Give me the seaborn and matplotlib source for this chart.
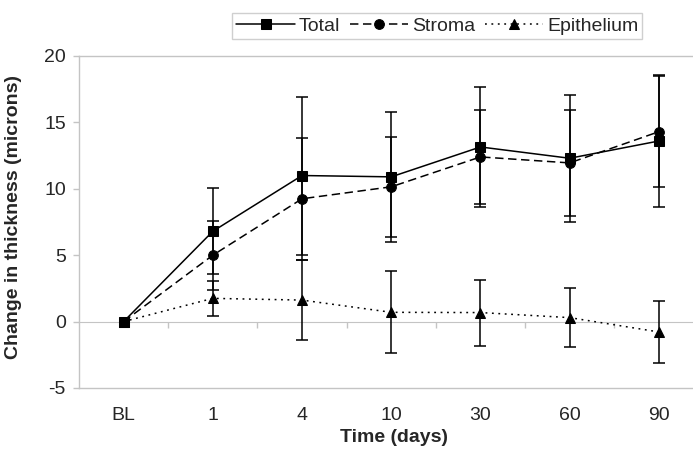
import numpy as np
import pandas as pd
import matplotlib
matplotlib.use('Agg')
import matplotlib.pyplot as plt
import seaborn as sns

# data
days = ['BL', '1', '4', '10', '30', '60', '90']
total = [0, 6.8, 11.0, 10.9, 13.15, 12.3, 13.6]
total_err = [np.nan, 3.25, 5.95, 4.9, 4.5, 4.8, 5.0]
stroma = [0, 5.0, 9.25, 10.15, 12.4, 11.95, 14.3]
stroma_err = [np.nan, 2.6, 4.6, 3.75, 3.55, 4.0, 4.2]
epi = [0, 1.75, 1.62, 0.7, 0.68, 0.3, -0.78]
epi_err = [np.nan, 1.3, 3.0, 3.1, 2.48, 2.2, 2.3]
series_names = ['Total', 'Stroma', 'Epithelium']

sns.set_style('white')
plt.rcParams['font.family'] = ['Liberation Sans', 'DejaVu Sans']
plt.rcParams['axes.unicode_minus'] = False

df = pd.DataFrame({
    'day': days * 3,
    'value': total + stroma + epi,
    'series': np.repeat(series_names, len(days)),
})

grey = '#c4c4c4'
fig = plt.figure(figsize=(6.93, 4.5), dpi=100)
ax = fig.add_axes([79 / 693, 62 / 450, 624.5 / 693, 332 / 450])

sns.lineplot(data=df, x='day', y='value', style='series', sort=False,
             markers={'Total': 's', 'Stroma': 'o', 'Epithelium': '^'},
             dashes={'Total': '', 'Stroma': (5.5, 3), 'Epithelium': (1.2, 3.0)},
             color='black', linewidth=1.1, markersize=7, markeredgecolor='black',
             legend=False, ax=ax, zorder=3)
handles = list(ax.lines[:3])

for vals, errs in [(total, total_err), (stroma, stroma_err), (epi, epi_err)]:
    ax.errorbar(days, vals, yerr=errs, fmt='none', ecolor='black',
                elinewidth=1.1, capsize=4, capthick=1.1, zorder=2)

ax.set_xlim(-0.5, 6.5)
ax.set_ylim(-5, 20)
ax.set_yticks([-5, 0, 5, 10, 15, 20])
ax.set_yticklabels(['-5', '0', '5', '10', '15', '20'])

for side in ['left', 'top', 'bottom', 'right']:
    ax.spines[side].set_color(grey)
    ax.spines[side].set_linewidth(1.0)

ax.tick_params(axis='y', direction='out', length=4.5, width=1, color=grey,
               pad=5, labelsize=14, left=True)
ax.tick_params(axis='x', length=0, pad=14, labelsize=14)

# zero line with category separator ticks
sec = ax.secondary_xaxis(0.2)
sec.spines['bottom'].set_color(grey)
sec.set_xticks(np.arange(0.5, len(days) - 0.5, 1))
sec.tick_params(axis='x', direction='out', length=4, width=1, color=grey,
                labelbottom=False)

ax.set_xlabel('Time (days)', fontsize=14, fontweight='bold')
ax.xaxis.set_label_coords(0.504, -0.122)
ax.set_ylabel('Change in thickness (microns)', fontsize=14, fontweight='bold')
ax.yaxis.set_label_coords(-0.092, 0.515)

leg = fig.legend(handles, series_names, loc='center',
                 bbox_to_anchor=(0.631, 0.942), ncol=3, fontsize=14,
                 frameon=True, fancybox=False, edgecolor=grey,
                 handlelength=3.0, handletextpad=0.2, columnspacing=0.5,
                 borderpad=0.2, borderaxespad=0)
leg.get_frame().set_linewidth(1.0)

fig.savefig('out.png', dpi=100)
